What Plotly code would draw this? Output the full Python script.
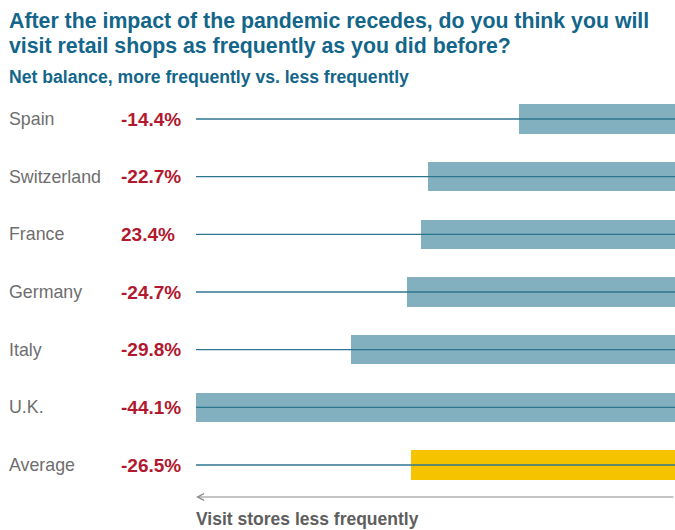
import plotly.graph_objects as go

countries = ["Spain", "Switzerland", "France", "Germany", "Italy", "U.K.", "Average"]
value_labels = ["-14.4%", "-22.7%", "23.4%", "-24.7%", "-29.8%", "-44.1%", "-26.5%"]
bar_values = [-14.4, -22.7, -23.4, -24.7, -29.8, -44.1, -24.3]
bar_colors = ["#82b0bf"] * 6 + ["#f6c300"]
title_lines = ["After the impact of the pandemic recedes, do you think you will",
               "visit retail shops as frequently as you did before?"]
subtitle = "Net balance, more frequently vs. less frequently"
axis_note = "Visit stores less frequently"

W, H = 675, 530
FONT = "Liberation Sans, Arial, sans-serif"
rows = list(range(len(countries)))
row_px0, row_step = 119, 57.67
y_top = -row_px0 / row_step
y_bot = (H - row_px0) / row_step

fig = go.Figure()
fig.add_trace(go.Bar(
    x=bar_values, y=rows, orientation="h", base=0,
    marker=dict(color=bar_colors, line=dict(width=0)),
    width=0.505, hoverinfo="skip", showlegend=False,
))

x_left = 196 / W
for i in rows:
    fig.add_shape(type="line", xref="x domain", yref="y", x0=0, x1=1, y0=i, y1=i,
                  line=dict(color="#2e7590", width=1.3), layer="above")
    fig.add_annotation(xref="paper", yref="y", x=7 / W, y=i, text=countries[i],
                       showarrow=False, xanchor="left", yanchor="middle",
                       font=dict(family=FONT, size=17.8, color="#6e6e6e"))
    fig.add_annotation(xref="paper", yref="y", x=119 / W, y=i, text="<b>" + value_labels[i] + "</b>",
                       showarrow=False, xanchor="left", yanchor="middle",
                       font=dict(family=FONT, size=19, color="#b2182e"))

for k, (line, ypx) in enumerate(zip(title_lines, [20.5, 46])):
    fig.add_annotation(xref="paper", yref="paper", x=7 / W, y=1 - ypx / H, text="<b>" + line + "</b>",
                       showarrow=False, xanchor="left", yanchor="middle", align="left",
                       font=dict(family=FONT, size=21.3, color="#13668a"))
fig.add_annotation(xref="paper", yref="paper", x=7 / W, y=1 - 77 / H, text="<b>" + subtitle + "</b>",
                   showarrow=False, xanchor="left", yanchor="middle", align="left",
                   font=dict(family=FONT, size=17.6, color="#13668a"))

# arrow
fig.add_annotation(xref="paper", yref="paper", x=196 / W, y=1 - 497 / H, ax=479, ay=0,
                   axref="pixel", ayref="pixel", text="", showarrow=True,
                   arrowhead=5, arrowsize=1.3, arrowwidth=1, arrowcolor="#8a8a8a")
fig.add_annotation(xref="paper", yref="paper", x=194 / W, y=1 - 519 / H, text="<b>" + axis_note + "</b>",
                   showarrow=False, xanchor="left", yanchor="middle",
                   font=dict(family=FONT, size=17.5, color="#5e5e5e"))

fig.update_layout(
    width=W, height=H, margin=dict(l=0, r=0, t=0, b=0),
    paper_bgcolor="white", plot_bgcolor="white",
    xaxis=dict(domain=[x_left, 1], range=[-44.1, 0], visible=False, fixedrange=True),
    yaxis=dict(domain=[0, 1], range=[y_bot, y_top], visible=False, fixedrange=True),
    bargap=0,
)
fig.write_html("out.html", config={"displayModeBar": False},
               post_script="document.body.style.margin='0';document.body.style.overflow='hidden';")
